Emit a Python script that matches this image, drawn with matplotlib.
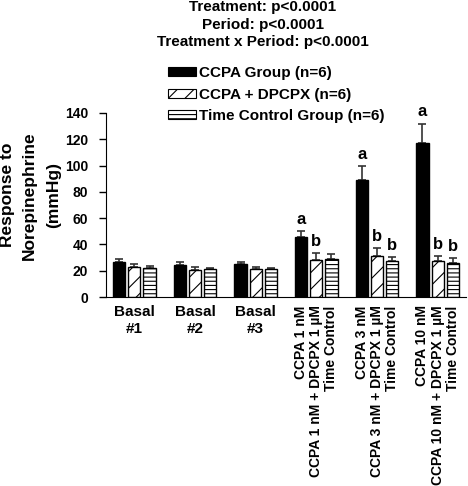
import matplotlib
matplotlib.use("Agg")
import matplotlib.pyplot as plt
import numpy as np
from matplotlib.patches import Patch

plt.rcParams['font.family'] = ['Liberation Sans', 'DejaVu Sans']
plt.rcParams['font.weight'] = 'bold'
plt.rcParams['hatch.linewidth'] = 0.8

# ---------------- data ----------------
groups = ["Basal\n#1", "Basal\n#2", "Basal\n#3", "CCPA 1 nM", "CCPA 3 nM", "CCPA 10 nM"]
series = ["CCPA Group (n=6)", "CCPA + DPCPX (n=6)", "Time Control Group (n=6)"]
ccpa = [26.5, 24.5, 25, 45.5, 89, 117]
ccpa_err = [2.5, 1.8, 2, 4.5, 10.5, 15]
dpcpx = [22.5, 20.5, 21, 28, 31.5, 27.5]
dpcpx_err = [2.5, 2, 2, 5.5, 5.5, 3.5]
timec = [22, 21, 21, 29, 27.5, 26]
timec_err = [1.5, 1, 1, 4, 3, 3.5]
letters_ccpa = ["", "", "", "a", "a", "a"]
letters_dpcpx = ["", "", "", "b", "b", "b"]
letters_timec = ["", "", "", "", "b", "b"]
rot_labels = [
    ["CCPA 1 nM", "CCPA 1 nM + DPCPX 1 \u00b5M", "Time Control"],
    ["CCPA 3 nM", "CCPA 3 nM + DPCPX 1 \u00b5M", "Time Control"],
    ["CCPA 10 nM", "CCPA 10 nM + DPCPX 1 \u00b5M", "Time Control"],
]
stats_lines = ["Treatment: p<0.0001", "Period: p<0.0001", "Treatment x Period: p<0.0001"]
yticks = [0, 20, 40, 60, 80, 100, 120, 140]

# ---------------- figure ----------------
fig = plt.figure(figsize=(4.68, 4.86), dpi=100)
ax = fig.add_axes([106/468, 1-297/486, 360/468, 184/486])

centers = np.arange(len(groups)) * 4.0
step = 1.0
width = 0.8
styles = [
    dict(facecolor='black', hatch=None),
    dict(facecolor='white', hatch='//'),
    dict(facecolor='white', hatch='----'),
]
all_vals = [ccpa, dpcpx, timec]
all_errs = [ccpa_err, dpcpx_err, timec_err]
all_letters = [letters_ccpa, letters_dpcpx, letters_timec]

for i, (vals, errs, lets, st) in enumerate(zip(all_vals, all_errs, all_letters, styles)):
    xs = centers + (i - 1) * step
    ax.bar(xs, vals, width=width, facecolor=st['facecolor'], edgecolor='black',
           hatch=st['hatch'], linewidth=1.0, zorder=2)
    ax.errorbar(xs, vals, yerr=[np.zeros(len(errs)), errs], fmt='none',
                ecolor='#333333', elinewidth=1.2, capsize=2.6, capthick=1.2, zorder=1)
    for x, v, e, l in zip(xs, vals, errs, lets):
        if l:
            ax.annotate(l, (x, v + e), xytext=(0, 3), textcoords='offset points',
                        ha='center', va='bottom', fontsize=12, fontweight='bold')

ax.set_ylim(0, 140)
ax.set_xlim(centers[0] - 1.87, centers[-1] + 1.87)
ax.set_yticks(yticks)
ax.set_yticklabels([str(t) for t in yticks], fontsize=10, fontweight='bold')
ax.tick_params(axis='y', direction='out', length=5, width=1, pad=8)
ax.spines['top'].set_visible(False)
ax.spines['right'].set_visible(False)

# x tick labels
xt = [centers[g] for g in range(3)]
xl = [groups[g] for g in range(3)]
ax.set_xticks(xt)
ax.set_xticklabels(xl, fontsize=11, fontweight='bold', linespacing=1.2)
ax.tick_params(axis='x', length=0, pad=6)
for g in range(3, 6):
    for i in range(3):
        x = centers[g] + (i - 1) * step
        ax.annotate(rot_labels[g - 3][i], (x, 0), xytext=(0, -6), textcoords='offset points',
                    rotation=90, ha='center', va='top', fontsize=10, fontweight='bold',
                    annotation_clip=False)

# y label (three lines)
fig.text(7.5/468, 1-195/486, "Response to", rotation=90, ha='center', va='center',
         fontsize=12.5, fontweight='bold')
fig.text(29.5/468, 1-196/486, "Norepinephrine", rotation=90, ha='center', va='center',
         fontsize=12.5, fontweight='bold')
fig.text(53.5/468, 1-195/486, "(mmHg)", rotation=90, ha='center', va='center',
         fontsize=12.5, fontweight='bold')

# stats text
for k, line in enumerate(stats_lines):
    fig.text(263/468, 1-(7 + 17.5*k)/486, line, ha='center', va='center',
             fontsize=11, fontweight='bold')

# legend
handles = [Patch(facecolor=st['facecolor'], edgecolor='black', hatch=st['hatch'], linewidth=0.8)
           for st in styles]
fig.legend(handles, series, loc='upper left', bbox_to_anchor=(168/468, 1-66/486),
           frameon=False, prop={'weight': 'bold', 'size': 11},
           handlelength=1.8, handleheight=0.55, handletextpad=0.25,
           labelspacing=0.5, borderpad=0, borderaxespad=0)

fig.savefig("out.png", dpi=100)
